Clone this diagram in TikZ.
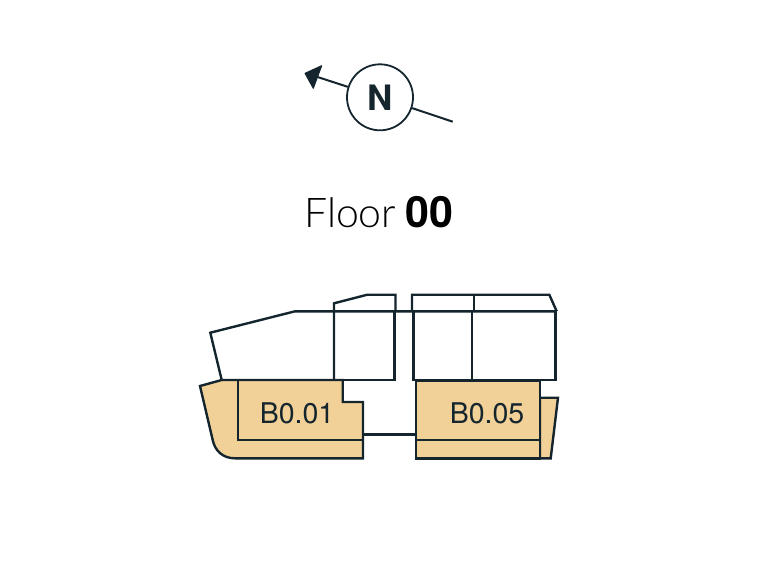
\documentclass[tikz,border=0pt]{standalone}
\usepackage{fontspec}
\setmainfont{TeX Gyre Heros}
\newfontfamily\lightface{Lato Light}
\definecolor{ink}{HTML}{14252E}
\definecolor{tan}{HTML}{F1D197}
\tikzset{
  wall/.style={draw=ink,line width=2.4pt,line join=miter},
  room/.style={wall,fill=tan},
  roomlabel/.style={text=ink,inner sep=0pt,font=\fontsize{28.5}{30}\selectfont},
  compass/.style={circle,draw=ink,line width=1.8pt,minimum size=66pt,inner sep=0pt,text=ink,font=\bfseries\fontsize{35}{36}\selectfont},
  needle/.style={draw=ink,line width=2pt},
}
\begin{document}
\begin{tikzpicture}[x=1pt,y=-1pt]
\useasboundingbox (0,0) rectangle (757,568);
% compass
\node[compass] (north) at (380,97.3) {N};
\coordinate (tailend) at (452.7,121.7);
\coordinate (headbase) at (316,76.5);
\draw[needle] (north) -- (tailend);
\draw[needle] (north) -- (headbase);
\filldraw[ink,line width=1pt,line join=round] (321.7,65.7) -- (305,73.3) -- (313.3,88.3) -- cycle;
% title
\node[inner sep=0pt,anchor=base west,text=black] (title) at (304,227) {{\lightface\fontsize{41}{42}\selectfont Floor}\hspace{9pt}{\bfseries\fontsize{43}{44}\selectfont 00}};
% upper outline
\draw[wall] (221.7,380) -- (210.3,332.7) -- (295,311.3) -- (556.7,311.3);
\draw[wall] (334,380) -- (334,303.3) -- (367.3,294.7) -- (395.5,294.7) -- (395.5,311.3);
\draw[wall] (394.5,311.3) -- (394.5,380) -- (221.7,380);
\draw[wall] (412,311.3) -- (412,294.7) -- (549.3,294.7) -- (556.7,311.3);
\draw[wall] (473.7,294.7) -- (473.7,311.3);
\draw[wall] (413.3,311.3) -- (413.3,380) -- (555.3,380) -- (555.3,311.3);
\draw[wall] (471.7,311.3) -- (471.7,380);
\draw[wall] (363,434.3) -- (416,434.3);
% tan left
\draw[room] (200,386) -- (221.7,380) -- (342.7,380) -- (342.7,402) -- (363,402) -- (363,458.3) -- (235,458.3)
  .. controls (223,458.3) and (215,451) .. (212.7,440) -- cycle;
\draw[wall] (238,380) -- (238,440) -- (363,440);
% tan right
\draw[room] (540,397.7) -- (558,397.7) -- (550.7,458.3) -- (540,458.3) -- cycle;
\draw[room] (416,380.5) rectangle (540,458.3);
\draw[wall] (416,440) -- (540,440);
\node[roomlabel] (b1) at (297,413.5) {B0.01};
\node[roomlabel] (b5) at (487,413.5) {B0.05};
\end{tikzpicture}
\end{document}
